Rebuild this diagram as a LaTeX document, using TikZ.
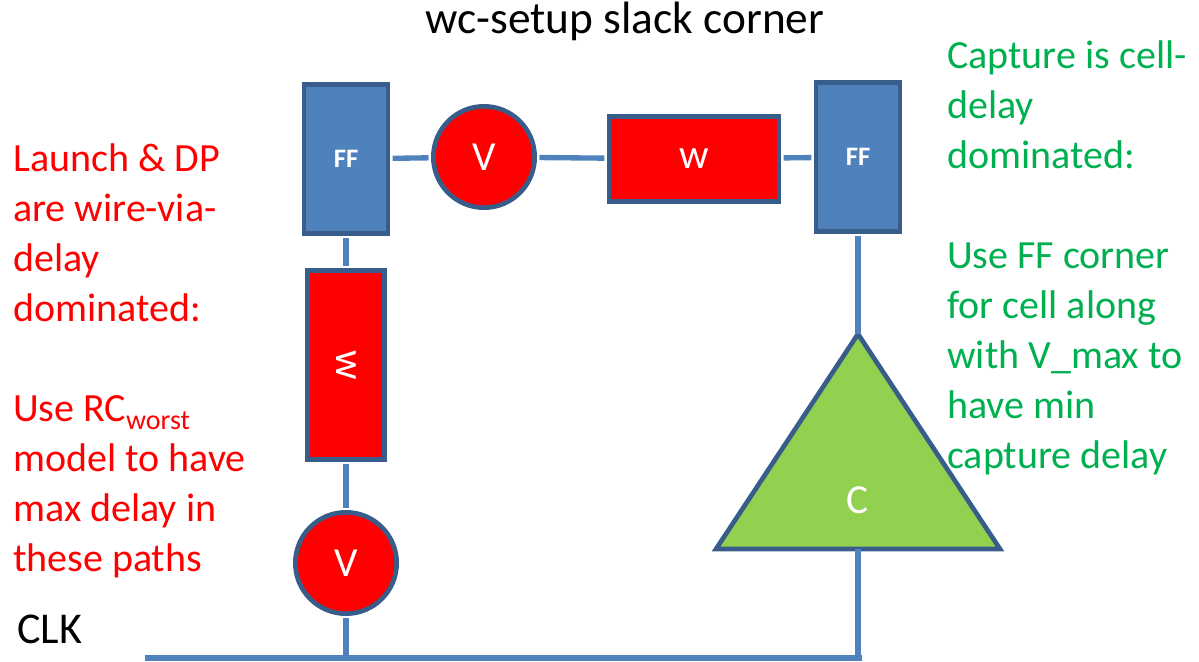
\documentclass[tikz,border=0pt]{standalone}
\usepackage{fontspec}
\setmainfont{Carlito}
\usepackage{xcolor}
\definecolor{ffblue}{HTML}{4F81BD}
\definecolor{rimblue}{HTML}{385D8A}
\definecolor{cellgreen}{HTML}{92D050}
\definecolor{notegreen}{HTML}{00B050}
\tikzstyle{ffbox}=[draw=rimblue, fill=ffblue, line width=3.5pt, minimum width=63pt, minimum height=112pt, text=white, font=\fontsize{20}{20}\selectfont\bfseries]
\tikzstyle{via}=[draw=rimblue, fill=red, shape=circle, line width=3.5pt, minimum size=76pt, inner sep=0pt, text=white, font=\fontsize{31}{32}\selectfont]
\tikzstyle{wire}=[draw=rimblue, fill=red, line width=3.5pt, text=white, font=\fontsize{31}{32}\selectfont]
\tikzstyle{cell}=[draw=rimblue, fill=cellgreen, line width=3.5pt, line join=miter]
\tikzstyle{edge}=[draw=ffblue, line width=4pt, shorten >=1.75pt, shorten <=1.75pt]
\tikzstyle{note}=[align=left, anchor=north west, inner sep=0pt, font=\fontsize{30}{37.5}\selectfont]

\begin{document}
\begin{tikzpicture}[x=0.75pt, y=-0.75pt]
            \useasboundingbox (0,0) rectangle (1199,661);
            \node[anchor=base, font=\fontsize{34}{40}\selectfont] (title) at (625,33) {wc-setup slack corner};
            \node[ffbox] (ff1) at (346,159) {FF};
            \node[via] (v1) at (484,157) {V};
            \node[wire, minimum width=127.5pt, minimum height=63.5pt] (w1) at (694,159) {w};
            \node[ffbox] (ff2) at (858,157) {FF};
            \node[wire, minimum width=58pt, minimum height=142pt] (w2) at (346,365) {\rotatebox{-90}{w}};
            \node[via] (v2) at (346,563) {V};
            \coordinate (ctop) at (858,334);
            \coordinate (cbase) at (858,549);
            \draw[cell] (ctop) -- (1000,549) -- (716,549) -- cycle;
            \node[text=white, font=\fontsize{31}{32}\selectfont] (c) at (858,500) {C};
            \coordinate (clkl) at (145,658);
            \coordinate (clkr) at (862,658);
            \node[anchor=base west, inner sep=0pt, font=\fontsize{33}{40}\selectfont] (clk) at (17,643) {CLK};
            \node[note, text=red] (launch) at (13,143) {Launch \& DP\\are wire-via-\\delay\\dominated:\\[37.5pt]Use RC\raisebox{-6pt}{\fontsize{21}{21}\selectfont worst}\\model to have\\max delay in\\these paths};
            \node[note, text=notegreen] (capture) at (947,40) {Capture is cell-\\delay\\dominated:\\[37.5pt]Use FF corner\\for cell along\\with V\_max to\\have min\\capture delay};
            \draw[edge] (ff1) -- (v1);
            \draw[edge] (v1) -- (w1);
            \draw[edge] (w1) -- (ff2);
            \draw[edge] (ff1) -- (w2);
            \draw[edge] (w2) -- (v2);
            \draw[edge] (v2) -- (v2 |- clkl);
            \draw[edge, shorten >=0pt] (ff2) -- (ctop);
            \draw[edge, shorten <=0pt] (cbase) -- (cbase |- clkl);
            \draw[edge, shorten <=0pt, shorten >=0pt] (clkl) -- (clkr);
	    \end{tikzpicture}
\end{document}
